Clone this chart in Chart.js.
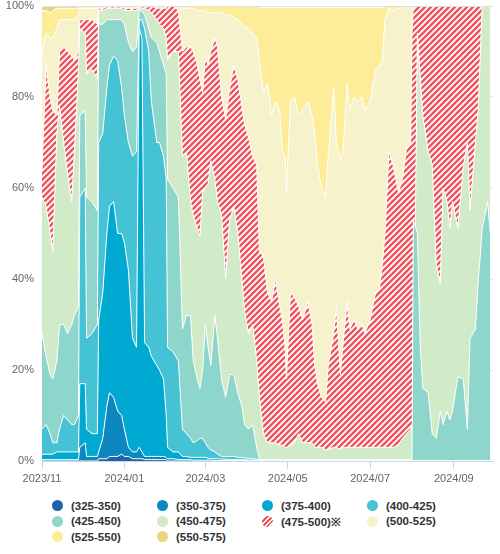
<!DOCTYPE html>
<html>
<head>
<meta charset="utf-8">
<script src="https://cdn.jsdelivr.net/npm/chart.js@4/dist/chart.umd.min.js"></script>
<style>
    body { margin: 0; background: #fff; }
    #wrap { position: relative; width: 500px; height: 554px; }
    #chart { position: absolute; left: 0; top: 0; }
    #legend {
        position: absolute; left: 52px; top: 498px;
        display: grid; grid-template-columns: repeat(4, 105px);
        font: bold 11.5px "Liberation Sans", Arial, sans-serif; color: #333;
    }
    .legend-item { display: flex; align-items: center; height: 15.5px; white-space: nowrap; }
    .legend-color { width: 11px; height: 11px; border-radius: 50%; margin-right: 8px; flex: none; }
</style>
</head>
<body>
<div id="wrap">
    <canvas id="chart" width="500" height="490"></canvas>
    <div id="legend"></div>
</div>
<script>
// day offset from 2023/11/01
const days = [
    0, 3, 6, 8, 11, 13, 16, 19, 22, 24, 27,
    28, 32, 33, 37, 41,
    42, 45, 48, 50, 53, 56, 59, 61, 64, 67, 70, 72, 74, 76, 79, 81, 85, 87, 90, 92,
    93, 97, 101, 104, 107, 110, 112, 115, 117, 119, 121, 123, 125, 128, 130, 133, 136, 139, 142, 145, 148, 150, 153, 156, 159,
    161, 164, 167, 170, 173, 176, 178, 180, 181, 184, 187, 190, 193, 197, 200, 202, 204, 207, 210, 212, 216,
    218, 221, 223, 226, 228, 231, 234, 237, 239, 243, 247, 250, 252, 254, 257, 260, 264, 267, 270, 273, 274,
    275, 278, 280, 282, 286, 289, 292, 295, 297, 300, 302, 304, 308, 312, 315, 317, 321, 323, 326, 328, 330, 332
];

// cumulative share (%) of everything up to the top of each bin
const upTo350 = [
    0, 0, 0, 0, 0, 0, 0, 0, 0, 0, 0,
    0, 0, 0, 0, 0,
    0.5, 0.5, 0.5, 1, 1, 1, 1.5, 1, 1, 0.5, 0.5, 0.5, 0.5, 0.3, 0.3, 0.3, 0.3, 0.3, 0.3, 0.3,
    0, 0, 0, 0, 0, 0, 0, 0, 0, 0, 0, 0, 0, 0, 0, 0, 0, 0, 0, 0, 0, 0, 0, 0, 0,
    0, 0, 0, 0, 0, 0, 0, 0, 0, 0, 0, 0, 0, 0, 0, 0, 0, 0, 0, 0, 0,
    0, 0, 0, 0, 0, 0, 0, 0, 0, 0, 0, 0, 0, 0, 0, 0, 0, 0, 0, 0, 0,
    0, 0, 0, 0, 0, 0, 0, 0, 0, 0, 0, 0, 0, 0, 0, 0, 0, 0, 0, 0, 0, 0
];
const upTo375 = [
    0.3, 0.3, 0.3, 0.3, 0.3, 0.3, 0.3, 0.3, 0.3, 0.3, 0.3,
    3, 4, 1, 1, 1,
    2, 5, 12, 15, 14, 11, 10, 7, 3, 2, 2, 3, 2, 1, 1, 1, 1, 1, 1, 0.8,
    0.5, 0.5, 0.3, 0.3, 0.3, 0.3, 0.2, 0.2, 0.2, 0.2, 0.2, 0.2, 0.2, 0.1, 0.1, 0.1, 0.1, 0.1, 0.1, 0.1, 0.1, 0.1, 0.1, 0.1, 0.1,
    0, 0, 0, 0, 0, 0, 0, 0, 0, 0, 0, 0, 0, 0, 0, 0, 0, 0, 0, 0, 0,
    0, 0, 0, 0, 0, 0, 0, 0, 0, 0, 0, 0, 0, 0, 0, 0, 0, 0, 0, 0, 0,
    0, 0, 0, 0, 0, 0, 0, 0, 0, 0, 0, 0, 0, 0, 0, 0, 0, 0, 0, 0, 0, 0
];
const upTo400 = [
    1.5, 1.5, 1.5, 1.5, 2, 2, 2, 2, 2, 2, 2,
    17, 17, 7, 6, 6,
    31, 37, 50, 56, 57, 50, 50, 48, 42, 27, 25, 95, 93, 26, 25, 23, 21, 20, 18, 10,
    3, 2, 2, 1, 1, 0.8, 0.8, 0.8, 0.8, 0.8, 0.8, 0.6, 0.5, 0.5, 0.5, 0.4, 0.4, 0.3, 0.3, 0.3, 0.3, 0.3, 0.2, 0.2, 0.2,
    0.1, 0.1, 0, 0, 0, 0, 0, 0, 0, 0, 0, 0, 0, 0, 0, 0, 0, 0, 0, 0, 0,
    0, 0, 0, 0, 0, 0, 0, 0, 0, 0, 0, 0, 0, 0, 0, 0, 0, 0, 0, 0, 0,
    0, 0, 0, 0, 0, 0, 0, 0, 0, 0, 0, 0, 0, 0, 0, 0, 0, 0, 0, 0, 0, 0
];
const upTo425 = [
    7, 8, 6, 4, 4, 7, 10, 9, 8, 8, 10,
    58, 60, 27, 28, 30,
    70, 72, 82, 87, 89, 88, 82, 76, 70, 67, 68, 97, 97, 95, 90, 79, 70, 70, 67, 62,
    25, 24, 22, 7, 6, 5, 4, 4.5, 5, 5, 4, 3, 2.4, 2, 1.5, 1, 1, 1, 1, 0.8, 0.8, 0.7, 0.6, 0.5, 0.4,
    0.3, 0.2, 0.2, 0.2, 0.2, 0.1, 0.1, 0.1, 0.1, 0.1, 0.1, 0.1, 0.1, 0.1, 0.1, 0.1, 0.1, 0.1, 0.1, 0.1, 0.1,
    0.1, 0.1, 0.1, 0.1, 0.1, 0.1, 0.1, 0.1, 0.1, 0.1, 0.1, 0.1, 0.1, 0.1, 0.1, 0.1, 0.1, 0.1, 0.1, 0.1, 0.1,
    0.1, 0.1, 0.1, 0.1, 0.1, 0.1, 0.1, 0.1, 0.1, 0.1, 0.1, 0.1, 0.1, 0.1, 0.1, 0.1, 0.1, 0.1, 0.1, 0.1, 0.1, 0.1
];
const upTo450 = [
    28, 23, 19, 18, 22, 30, 30, 28, 30, 32, 34,
    76, 77, 58, 57, 55,
    96, 96, 97, 97, 97, 97, 97, 96, 92, 90, 91, 99, 99, 98, 95, 93, 92, 90, 87, 85,
    62, 60, 58, 29, 32, 32, 22, 18, 16, 20, 30, 25, 21, 32, 27, 18, 14, 19, 19, 15, 12, 8, 7, 8, 3,
    0.5, 0.3, 0.3, 0.3, 0.3, 0.3, 0.3, 0.3, 0.3, 0.3, 0.3, 0.3, 0.3, 0.3, 0.3, 0.3, 0.3, 0.3, 0.3, 0.3, 0.3,
    0.3, 0.3, 0.3, 0.3, 0.3, 0.3, 0.3, 0.3, 0.3, 0.3, 0.3, 0.3, 0.3, 0.3, 0.3, 0.3, 0.3, 0.3, 0.3, 0.3, 0.3,
    53, 50, 26, 16, 15, 6, 5, 11, 8, 11, 9, 11, 18.5, 18, 7, 27, 29, 39, 51, 54, 57, 50
];
const upTo475 = [
    58, 56, 50, 46, 72, 78, 70, 63, 57, 68, 86,
    95, 94, 85, 86, 84,
    99, 99, 99.5, 99.5, 99.5, 99.5, 99.5, 99, 99, 99, 99, 99.5, 99.5, 99.5, 99, 98.5, 97, 96, 95, 93,
    88, 90, 90, 67, 68, 57, 54, 51, 49.5, 59, 60, 61, 66, 62, 57, 54, 40, 53, 56, 50, 40, 33, 28, 30, 22,
    14, 6, 4, 4, 4, 3.5, 3.5, 3, 3, 3.5, 4, 6, 4, 4, 4, 3, 3, 3, 2.5, 2.5, 3,
    3, 2.5, 3, 3, 3, 3, 3, 3, 3, 3, 3, 3, 3, 3, 3, 3, 3.5, 5, 6, 7, 8, 8,
    94, 85, 76, 68, 65, 43, 39, 60, 57, 51, 57, 51, 64.6, 70, 55, 70, 77, 100, 100, 100, 100, 100
];
const upTo500 = [
    64, 87, 80, 77, 76, 90, 91, 90, 89, 88, 90,
    97, 97, 97, 97, 96,
    99.5, 99.5, 99.8, 99.8, 99.8, 99.8, 99.8, 99.5, 99.5, 99.5, 99.5, 99.8, 99.8, 99.8, 99.8, 100, 99.5, 99.5, 99.5, 99.5,
    100, 100, 99, 90, 91, 91, 90, 87, 84, 81, 89, 87, 90, 93, 91, 80, 75, 82, 87, 84, 78, 74, 71, 67, 65,
    46, 45, 37, 35, 40, 34, 31, 25, 18, 37, 36, 34, 31, 35, 30, 21, 17, 14, 13, 21, 28,
    34, 19, 26, 35, 29, 31, 29, 30, 28, 31, 37, 38, 43, 50, 68, 65, 59, 62, 69, 70, 94,
    100, 100, 100, 100, 100, 100, 100, 100, 100, 100, 100, 100, 100, 100, 100, 100, 100, 100, 100, 100, 100, 100
];
const upTo525 = [
    90, 94, 93, 93, 95, 97, 97, 97, 97, 97, 98,
    99.5, 99.5, 99.5, 99.5, 99.5,
    100, 100, 100, 100, 100, 100, 100, 100, 100, 100, 100, 100, 100, 100, 100, 100, 100, 100, 100, 100,
    100, 100, 100, 99.5, 99.5, 99.5, 99.5, 99, 99, 99, 99, 98.5, 98.5, 98.5, 98.5, 98.5, 98, 98, 97.5, 97, 96, 95.5, 95, 94, 93,
    88, 81, 83, 76, 79, 77, 68, 67, 59, 79, 80, 76, 77, 79, 76, 72, 65, 60, 58, 67, 82,
    70, 66, 68, 83, 77, 80, 79, 80, 77, 79, 86, 87, 88, 97, 99.5, 99, 99.5, 100, 100, 100, 100,
    100, 100, 100, 100, 100, 100, 100, 100, 100, 100, 100, 100, 100, 100, 100, 100, 100, 100, 100, 100, 100, 100
];
const upTo550 = [
    99, 99, 98.5, 99, 99.5, 99.5, 99.5, 99.5, 99.5, 99.5, 99.5,
    100, 100, 100, 100, 100,
    100, 100, 100, 100, 100, 100, 100, 100, 100, 100, 100, 100, 100, 100, 100, 100, 100, 100, 100, 100,
    100, 100, 100, 100, 100, 100, 100, 100, 100, 100, 100, 100, 100, 100, 100, 100, 100, 100, 100, 100, 100, 100, 100, 100, 100,
    99.7, 99.7, 99.7, 99.7, 99.7, 99.7, 99.7, 99.7, 99.7, 99.7, 99.7, 99.7, 99.7, 99.7, 99.7, 99.7, 99.7, 99.7, 99.7, 99.7, 99.7,
    99.7, 99.7, 99.7, 99.7, 99.7, 99.7, 99.7, 99.7, 99.7, 99.7, 99.7, 99.7, 99.7, 99.8, 100, 100, 100, 100, 100, 100, 100,
    100, 100, 100, 100, 100, 100, 100, 100, 100, 100, 100, 100, 100, 100, 100, 100, 100, 100, 100, 100, 100, 100
];

const bins = ['(325-350)', '(350-375)', '(375-400)', '(400-425)', '(425-450)',
              '(450-475)', '(475-500)※', '(500-525)', '(525-550)', '(550-575)'];
// the last bin runs from the 550 line up to 100%
const lines = [upTo350, upTo375, upTo400, upTo425, upTo450, upTo475, upTo500, upTo525, upTo550, upTo550];

const tickDays = [0, 61, 121, 182, 243, 305];
const tickLabels = ['2023/11', '2024/01', '2024/03', '2024/05', '2024/07', '2024/09'];

const red = '#f2525c';
function hatch() {
    const c = document.createElement('canvas');
    c.width = 6; c.height = 6;
    const g = c.getContext('2d');
    g.fillStyle = '#fff';
    g.fillRect(0, 0, 6, 6);
    g.strokeStyle = red;
    g.lineWidth = 2.4;
    g.beginPath();
    g.moveTo(0, 6); g.lineTo(6, 0);
    g.moveTo(-1, 1); g.lineTo(1, -1);
    g.moveTo(5, 7); g.lineTo(7, 5);
    g.stroke();
    return g.createPattern(c, 'repeat');
}

const colors = ['#1d63aa', '#0c87c0', '#00a9d1', '#45c2d3', '#8ed6cb',
                '#d1eac7', hatch(), '#f6f2cc', '#feed98', '#e9d67c'];
const legendColors = colors.slice();
legendColors[6] = `repeating-linear-gradient(135deg, ${red} 0 1.9px, #fff 1.9px 3.3px)`;

Chart.defaults.font.family = '"Liberation Sans", Arial, sans-serif';
Chart.defaults.font.size = 11;
Chart.defaults.color = '#666';

const topLine = {
    id: 'topLine',
    afterDatasetsDraw(chart) {
        const { ctx, chartArea, scales } = chart;
        const y = Math.round(scales.y.getPixelForValue(100)) + 0.5;
        ctx.save();
        ctx.strokeStyle = '#e0e0e0';
        ctx.lineWidth = 1;
        ctx.beginPath();
        ctx.moveTo(chartArea.left, y);
        ctx.lineTo(chartArea.right, y);
        ctx.stroke();
        ctx.restore();
    }
};

new Chart(document.getElementById('chart'), {
    type: 'line',
    data: {
        datasets: bins.map((label, i) => ({
            label: label,
            data: days.map((d, j) => ({ x: d, y: lines[i][j] })),
            backgroundColor: colors[i],
            borderColor: '#fff',
            borderWidth: i === 9 ? 0 : 1,
            fill: i === 0 ? 'origin' : (i === 9 ? 'end' : '-1'),
            pointRadius: 0,
            tension: 0
        }))
    },
    options: {
        responsive: false,
        animation: false,
        layout: { padding: { top: 6, right: 7, left: 0, bottom: 0 } },
        plugins: {
            legend: { display: false },
            tooltip: { enabled: false }
        },
        scales: {
            x: {
                type: 'linear',
                min: 0,
                max: 334,
                afterBuildTicks: (scale) => { scale.ticks = tickDays.map(v => ({ value: v })); },
                afterFit: (scale) => { scale.height = 29; },
                ticks: {
                    autoSkip: false,
                    maxRotation: 0,
                    padding: 3,
                    color: '#666',
                    callback: (v) => tickLabels[tickDays.indexOf(v)]
                },
                grid: { drawOnChartArea: false, drawTicks: true, tickLength: 8, color: '#ccd6eb' },
                border: { display: true, color: '#ccd6eb' }
            },
            y: {
                min: 0,
                max: 100,
                afterFit: (scale) => {
                    scale.width = 42;
                    scale.paddingTop = 0;
                    scale.paddingBottom = 0;
                },
                ticks: { stepSize: 20, padding: 8, color: '#666', callback: (v) => v + '%' },
                grid: { color: '#e6e6e6', drawTicks: false },
                border: { display: false }
            }
        }
    },
    plugins: [topLine]
});

const legend = document.getElementById('legend');
bins.forEach((label, i) => {
    const item = document.createElement('div');
    item.classList.add('legend-item');
    item.innerHTML = `<span class="legend-color" style="background:${legendColors[i]}"></span>${label}`;
    legend.appendChild(item);
});
</script>
</body>
</html>
